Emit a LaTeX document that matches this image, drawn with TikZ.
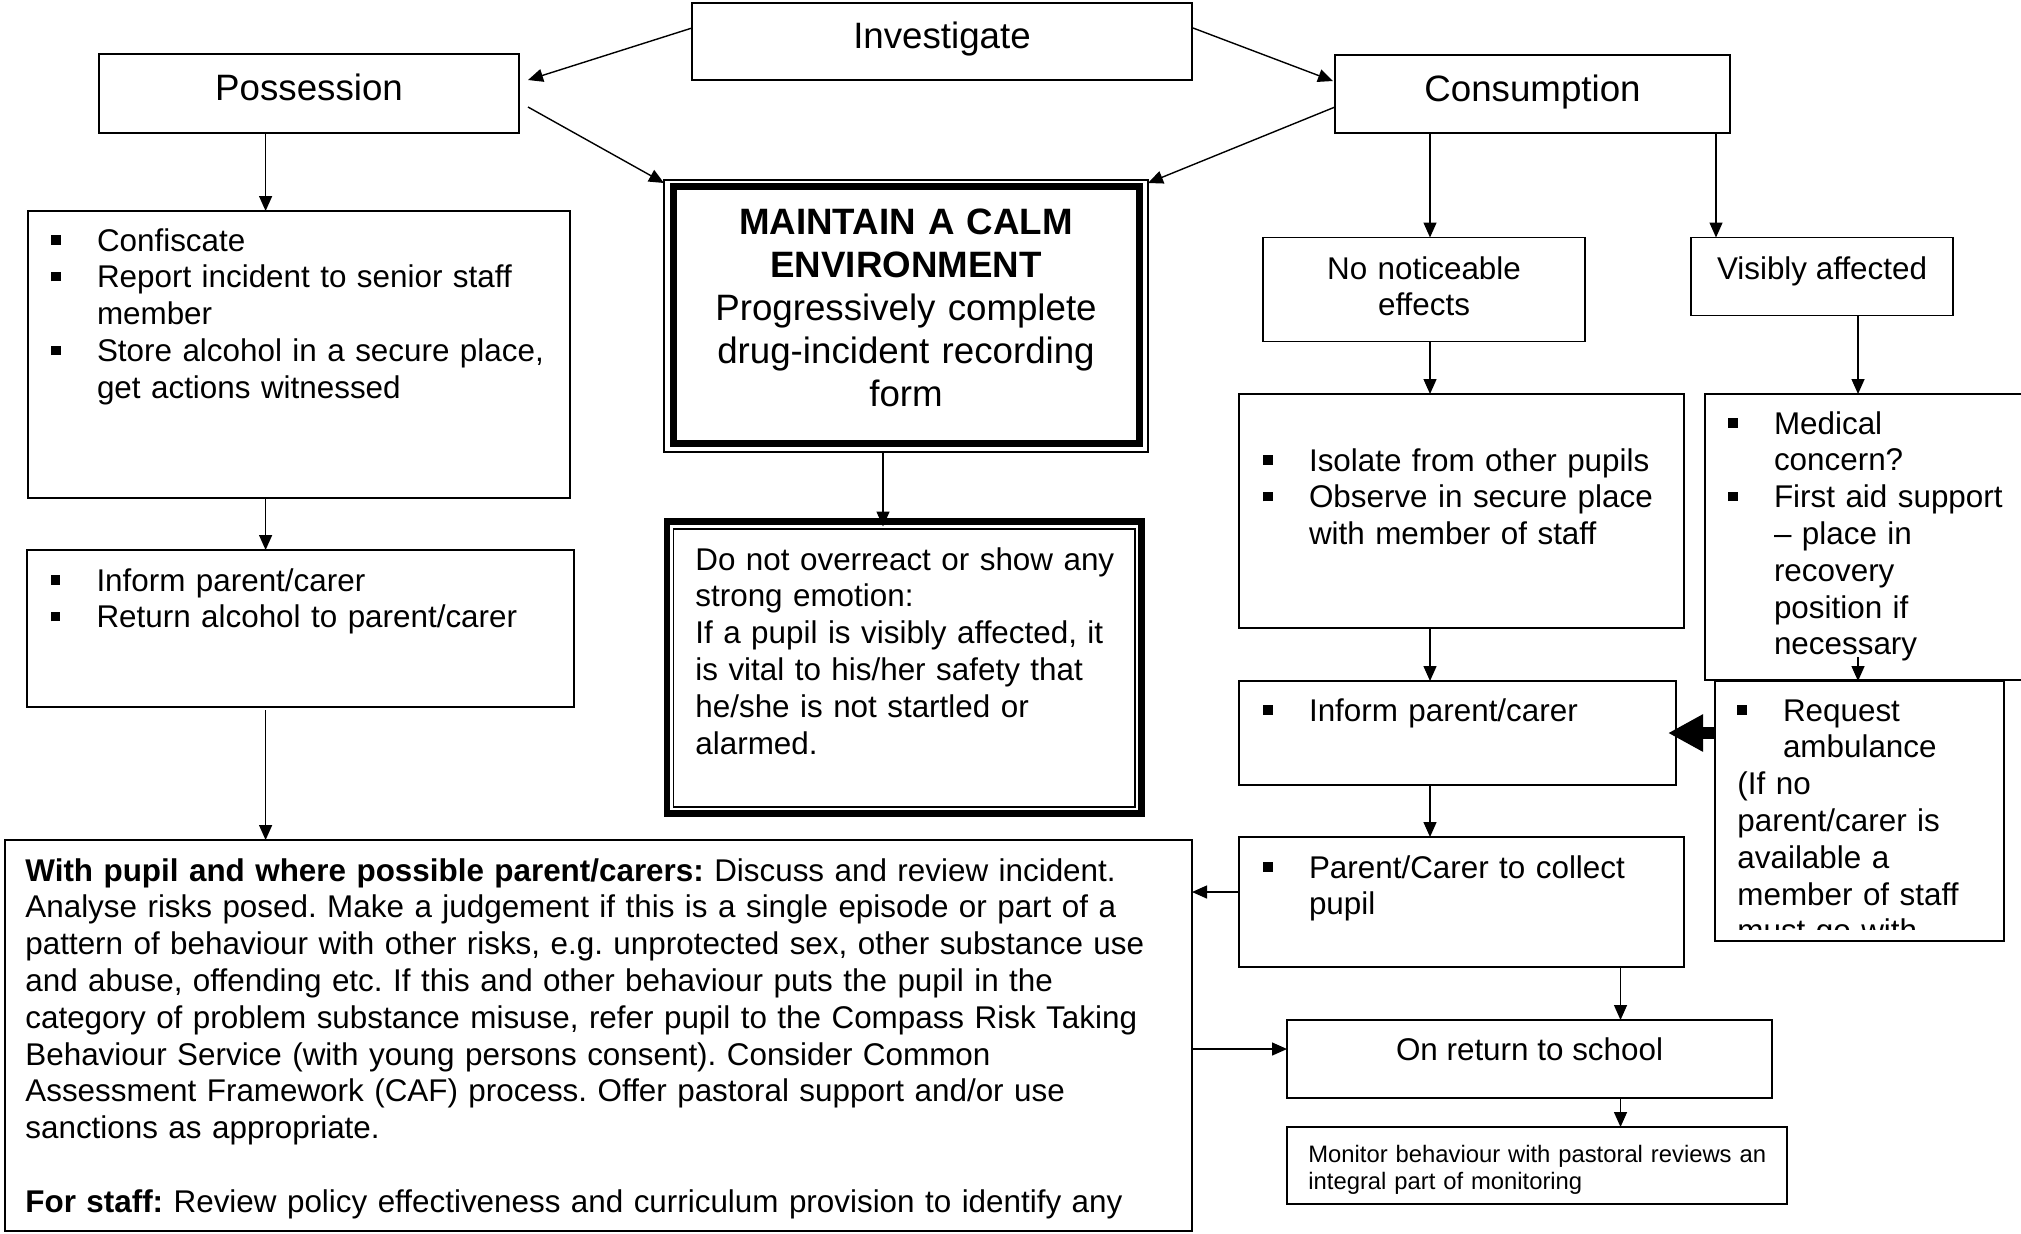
\documentclass[tikz,border=0pt]{standalone}
\usepackage{fontspec}
\setmainfont{Liberation Sans}
\usetikzlibrary{arrows.meta,calc,fit}
% square bullet with hanging indent, and the matching indent for wrapped lines
\newcommand{\sqbul}{\makebox[22.8pt][l]{\raisebox{3.2pt}{\rule{4.6pt}{4.6pt}}}}
\newcommand{\bulind}{\hspace*{22.8pt}}
\frenchspacing

\begin{document}
\begin{tikzpicture}[x=0.5pt,y=-0.5pt,
  box/.style={draw, line width=0.8pt, inner sep=0pt, outer sep=0pt},
  arr/.style={line width=0.7pt, -{Triangle[length=7.5pt,width=6.5pt]}},
  bigarr/.style={line width=6pt, -{Triangle[length=17.5pt,width=17.5pt]}},
  title/.style={font=\fontsize{18.35}{21.5}\selectfont, inner sep=0pt, anchor=base},
  body/.style={font=\fontsize{15.7}{18.4}\selectfont, inner sep=0pt, anchor=base west, align=left},
  bodyc/.style={font=\fontsize{15.7}{18.4}\selectfont, inner sep=0pt, anchor=base, align=center},
  small/.style={font=\fontsize{11.9}{13.5}\selectfont, inner sep=0pt, anchor=base west, align=left}]

\useasboundingbox (0,0) rectangle (2021,1233);
\fill[white] (0,0) rectangle (2021,1233);

% ---------- boxes ----------
\node[box, fit={(692,3) (1192,80)}] (inv) {};
\node[box, fit={(99,54) (519,133)}] (poss) {};
\node[box, fit={(1335,55) (1730,133)}] (cons) {};

\node[box, fit={(28,211) (570,498)}] (conf) {};
\node[box, fit={(27,550) (574,707)}] (inf1) {};
\node[box, fit={(5,840) (1192,1231)}] (big) {};

% thin outer / thick inner frame
\node[box, fit={(664,180) (1148,452)}] (maint) {};
\draw[line width=3.5pt] ($(maint.north west)+(9,6)$) rectangle ($(maint.south east)+(-8.5,-9)$);

% thick outer / thin inner frame
\node[box, line width=3.3pt, fit={(667,521.5) (1141.5,813.5)}] (donot) {};
\draw[line width=0.8pt] ($(donot.north west)+(6.5,7.5)$) rectangle ($(donot.south east)+(-6.5,-6.8)$);

\node[box, fit={(1263,237.5) (1585,341.5)}] (nonot) {};
\node[box, fit={(1691,237.5) (1953,315.6)}] (visib) {};
\node[box, fit={(1239,394) (1684,628)}] (isol) {};
\node[inner sep=0pt, outer sep=0pt, fit={(1705,394) (2021,680)}] (med) {};
\draw[line width=0.8pt] (med.north east) -- (med.north west) -- (med.south west) -- (med.south east);
\node[box, fit={(1239,681) (1676,785)}] (inf2) {};
\node[box, fit={(1715,681) (2004,941)}] (req) {};
\node[box, fit={(1239,837) (1684,967)}] (par) {};
\node[box, fit={(1287,1020) (1772,1098)}] (onret) {};
\node[box, fit={(1287,1127) (1787,1204)}] (mon) {};

% ---------- texts ----------
\node[title] (inv-t) at (942,48) {Investigate};
\node[title] (poss-t) at (309,100) {Possession};
\node[title] (cons-t) at (1532.5,101) {Consumption};

\node[title, align=center, text width=225pt] (maint-t) at (906,234)
  {\textbf{MAINTAIN A CALM}\\\textbf{ENVIRONMENT}\\Progressively complete\\drug-incident recording\\form};

\node[body, text width=255pt] (conf-t) at (51,251)
  {\sqbul Confiscate\\\sqbul Report incident to senior staff\\\bulind member\\\sqbul Store alcohol in a secure place,\\\bulind get actions witnessed};

\node[body, text width=255pt] (inf1-t) at (50.5,591)
  {\sqbul Inform parent/carer\\\sqbul Return alcohol to parent/carer};

\node[body, text width=218pt] (donot-t) at (695,570)
  {Do not overreact or show any\\strong emotion:\\If a pupil is visibly affected, it\\is vital to his/her safety that\\he/she is not startled or\\alarmed.};

\node[body, text width=575pt] (big-t) at (25,881)
  {\textbf{With pupil and where possible parent/carers:} Discuss and review incident.\\
   Analyse risks posed. Make a judgement if this is a single episode or part of a\\
   pattern of behaviour with other risks, e.g. unprotected sex, other substance use\\
   and abuse, offending etc. If this and other behaviour puts the pupil in the\\
   category of problem substance misuse, refer pupil to the Compass Risk Taking\\
   Behaviour Service (with young persons consent). Consider Common\\
   Assessment Framework (CAF) process. Offer pastoral support and/or use\\
   sanctions as appropriate.\\[18.4pt]
   \textbf{For staff:} Review policy effectiveness and curriculum provision to identify any};

\node[bodyc, text width=150pt] (nonot-t) at (1424,279) {No noticeable\\effects};
\node[bodyc] (visib-t) at (1822,279) {Visibly affected};

\node[body, text width=205pt] (isol-t) at (1263,471)
  {\sqbul Isolate from other pupils\\\sqbul Observe in secure place\\\bulind with member of staff};

\node[body, text width=140pt] (med-t) at (1728,434)
  {\sqbul Medical\\\bulind concern?\\\sqbul First aid support\\\bulind – place in\\\bulind recovery\\\bulind position if\\\bulind necessary};

\node[body, text width=200pt] (inf2-t) at (1263,721) {\sqbul Inform parent/carer};

\begin{scope}
  \clip (1715,681) rectangle (2004,929);
  \node[body, text width=130pt] (req-t) at (1737,721)
    {\sqbul Request\\\bulind ambulance\\(If no\\parent/carer is\\available a\\member of staff\\must go with};
\end{scope}

\node[body, text width=205pt] (par-t) at (1263,878) {\sqbul Parent/Carer to collect\\\bulind pupil};

\node[bodyc] (onret-t) at (1529.5,1060) {On return to school};

\node[small, text width=236pt] (mon-t) at (1308,1162)
  {Monitor behaviour with pastoral reviews an\\integral part of monitoring};

% ---------- connectors ----------
\coordinate (cA) at (265.6,0);
\coordinate (cB) at (883,0);
\coordinate (cC) at (1430,0);
\coordinate (cD) at (1716,0);
\coordinate (cE) at (1858,0);
\coordinate (cF) at (1620.5,0);
\coordinate (rG) at (0,892);
\coordinate (rH) at (0,1049);

\draw[arr] ($(inv.west)+(0,-13.5)$) -- ($(poss.east)+(9,-13.5)$);
\draw[arr] ($(poss.east)+(9,13.5)$) -- ($(maint.north west)+(0,3)$);
\draw[arr] ($(inv.east)+(1,-13.5)$) -- ($(cons.west)+(-2,-13)$);
\draw[arr] ($(cons.west)+(0,13)$) -- ($(maint.north east)+(0,3)$);

\draw[arr] (poss.south -| cA) -- (conf.north -| cA);
\draw[arr] (conf.south -| cA) -- (inf1.north -| cA);
\draw[arr] ($(inf1.south -| cA)+(0,3)$) -- (big.north -| cA);
\draw[arr] (maint.south -| cB) -- ($(donot.north -| cB)+(0,5)$);

\draw[arr] (cons.south -| cC) -- (nonot.north -| cC);
\draw[arr] (cons.south -| cD) -- (visib.north -| cD);
\draw[arr] (nonot.south -| cC) -- (isol.north -| cC);
\draw[arr] (visib.south -| cE) -- (med.north -| cE);
\draw[arr] (isol.south -| cC) -- (inf2.north -| cC);
\draw[arr] ($(req.north -| cE)+(0,-24)$) -- (req.north -| cE);
\draw[bigarr] (req.west |- inf2.east) -- ($(inf2.east)+(-8,0)$);
\draw[arr] (inf2.south -| cC) -- (par.north -| cC);
\draw[arr] (par.west |- rG) -- (big.east |- rG);
\draw[arr] (big.east |- rH) -- (onret.west |- rH);
\draw[arr] (par.south -| cF) -- (onret.north -| cF);
\draw[arr] (onret.south -| cF) -- (mon.north -| cF);

\end{tikzpicture}
\end{document}
